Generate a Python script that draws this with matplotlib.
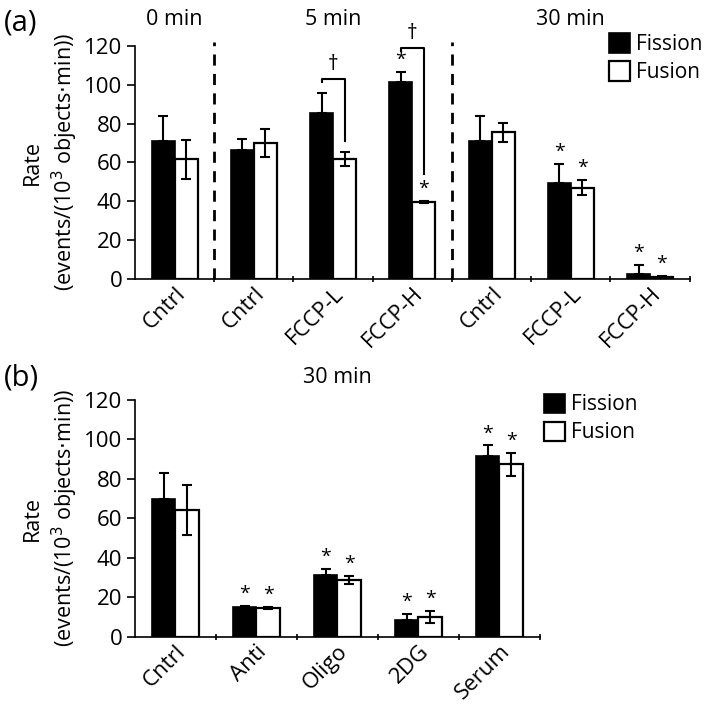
import numpy as np
import matplotlib.pyplot as plt

plt.rcParams['font.family'] = ['Open Sans', 'DejaVu Sans']

# panel (a)
a_labels = ["Cntrl", "Cntrl", "FCCP-L", "FCCP-H", "Cntrl", "FCCP-L", "FCCP-H"]
a_fission = [71, 66.5, 85.5, 101.5, 71, 49.3, 2.4]
a_fission_err = [13, 5.5, 10, 5, 13, 10, 5]
a_fusion = [61.5, 70, 61.7, 39.6, 75.4, 47, 1]
a_fusion_err = [10, 7, 3.5, 0.6, 5, 4, 0.5]
a_star_fission = [False, False, False, True, False, True, True]
a_star_fusion = [False, False, False, True, False, True, True]
a_groups = ["0 min", "5 min", "30 min"]
a_group_centers = [0, 2, 5]
a_dividers = [0.5, 3.5]

# panel (b)
b_labels = ["Cntrl", "Anti", "Oligo", "2DG", "Serum"]
b_fission = [69.8, 15.3, 31.3, 8.5, 91.3]
b_fission_err = [13, 0.5, 3, 3, 5.5]
b_fusion = [64.2, 14.6, 28.8, 10.2, 87.2]
b_fusion_err = [12.7, 0.4, 2.2, 3, 6]
b_star = [False, True, True, True, True]

W = 0.29
ekw = dict(ecolor='black', elinewidth=1.5, capsize=3.5, capthick=1.5)


def draw_panel(ax, labels, fis, fis_e, fus, fus_e, star_f, star_u):
    x = np.arange(len(labels))
    ax.bar(x - W / 2, fis, W, color='black', edgecolor='black', linewidth=1.2,
           label='Fission')
    ax.bar(x + W / 2, fus, W, color='white', edgecolor='black', linewidth=1.6,
           label='Fusion')
    ax.errorbar(x - W / 2, fis, yerr=[np.zeros(len(x)), fis_e], fmt='none', **ekw)
    ax.errorbar(x + W / 2, fus, yerr=fus_e, fmt='none', **ekw)
    for i in range(len(x)):
        if star_f[i]:
            ax.text(x[i] - W / 2, fis[i] + fis_e[i] + 1.5, '*', ha='center',
                    va='bottom', fontsize=14)
        if star_u[i]:
            ax.text(x[i] + W / 2, fus[i] + fus_e[i] + 1.5, '*', ha='center',
                    va='bottom', fontsize=14)
    ax.set_xlim(-0.5, len(x) - 0.5)
    ax.set_ylim(0, 120)
    ax.set_yticks(range(0, 121, 20))
    ax.set_xticks(x)
    ax.set_xticklabels(labels, rotation=45, ha='right', rotation_mode='anchor')
    ax.set_xticks(np.arange(len(x)) + 0.5, minor=True)
    ax.tick_params(axis='x', which='major', length=0, pad=3, labelsize=16)
    ax.tick_params(axis='x', which='minor', length=5, direction='inout', width=1.2)
    ax.tick_params(axis='y', length=6, width=1.2, labelsize=16, pad=3)
    for s in ['top', 'right']:
        ax.spines[s].set_visible(False)
    for s in ['left', 'bottom']:
        ax.spines[s].set_linewidth(1.2)
    ax.set_ylabel("Rate\n(events/(10$^3$ objects$\\cdot$min))", fontsize=15.5,
                  linespacing=1.3, labelpad=3)


fig = plt.figure(figsize=(7.14, 7.06), dpi=100)

ax1 = fig.add_axes([0.189, 0.605, 0.777, 0.330])
draw_panel(ax1, a_labels, a_fission, a_fission_err, a_fusion, a_fusion_err,
           a_star_fission, a_star_fusion)
for d in a_dividers:
    ax1.plot([d, d], [0, 122], color='black', lw=2, ls=(0, (4, 3)), clip_on=False)
for g, c in zip(a_groups, a_group_centers):
    ax1.text(c, 128, g, ha='center', va='bottom', fontsize=15.5)

# dagger brackets
brackets = [(2, 103, 71), (3, 119, 54)]
for i, top, low in brackets:
    xl = i - W / 2
    xr = i + W / 2
    ax1.plot([xl, xl, xr, xr], [top - 1.5, top, top, low], color='black', lw=1.5,
             clip_on=False)
    ax1.text((xl + xr) / 2, top + 2, '\u2020', ha='center', va='bottom',
             fontsize=15)
ax1.legend(loc='upper left', bbox_to_anchor=(0.84, 1.09), frameon=False,
           fontsize=15, handlelength=1.0, handleheight=1.05, handletextpad=0.3,
           labelspacing=0.3, borderaxespad=0)
fig.text(0.005, 0.968, "(a)", fontsize=21, va='center')

ax2 = fig.add_axes([0.189, 0.098, 0.567, 0.336])
draw_panel(ax2, b_labels, b_fission, b_fission_err, b_fusion, b_fusion_err,
           b_star, b_star)
ax2.text(2, 126, "30 min", ha='center', va='bottom', fontsize=15.5)
ax2.legend(loc='upper left', bbox_to_anchor=(0.99, 1.06), frameon=False,
           fontsize=15, handlelength=1.0, handleheight=1.05, handletextpad=0.3,
           labelspacing=0.3, borderaxespad=0)
fig.text(0.005, 0.465, "(b)", fontsize=21, va='center')

fig.savefig('out.png', dpi=100)
